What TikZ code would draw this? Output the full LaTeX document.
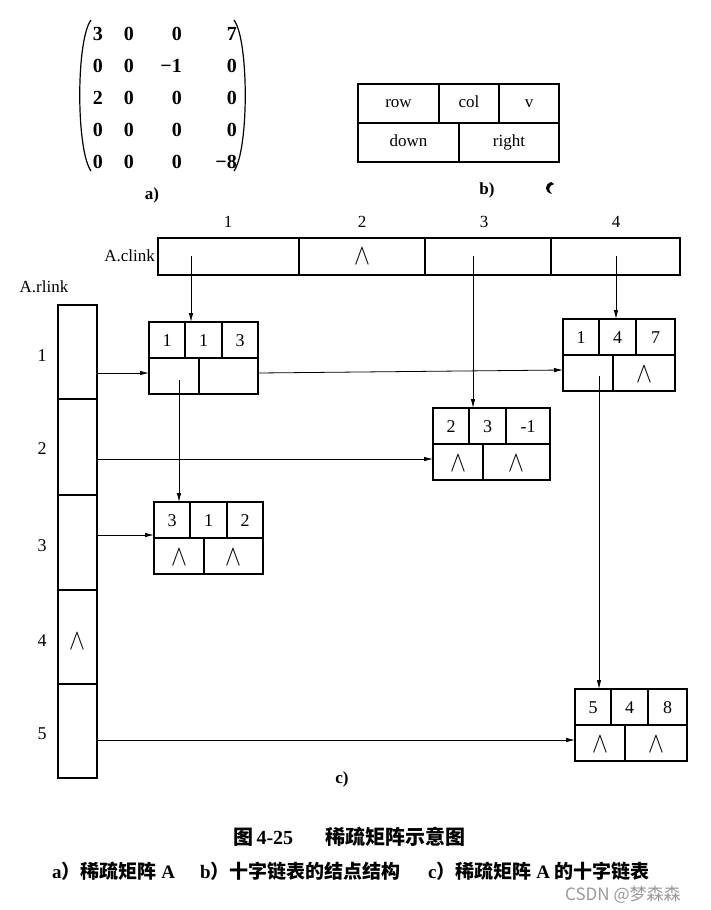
\documentclass[tikz,border=0pt]{standalone}
\usepackage{fontspec}
\usepackage{graphicx}
\setmainfont{Liberation Serif}
\newfontfamily\cjk{Noto Sans CJK SC}
\usetikzlibrary{arrows.meta,calc}
\newcommand\W{{\fontsize{20}{22}\selectfont\scalebox{1.15}[1.4]{$\wedge$}}}
\tikzset{
  box/.style={draw, line width=1.4pt, inner sep=0pt, outer sep=0pt, anchor=north west},
  inln/.style={line width=1.3pt},
  arr/.style={line width=0.8pt, -{Latex[length=9pt,width=4.5pt]}},
  num/.style={font=\fontsize{18}{20}\selectfont, inner sep=0pt, text height=12pt, text depth=0pt},
  lab/.style={font=\fontsize{17}{19}\selectfont, inner sep=0pt, text height=11.5pt, text depth=3.5pt},
  wdg/.style={inner sep=0pt},
  mat/.style={font=\fontsize{20}{22}\selectfont\bfseries, inner sep=0pt, anchor=east, text height=13pt, text depth=0pt},
  paren/.style={line width=1.2pt},
  capt/.style={inner sep=0pt, anchor=west},
}
\newcommand\xlnode[9]{%
  \node[box, minimum width=#4, minimum height=72] (#1) at (#2,#3) {};
  \begin{scope}[shift={(#2,#3)}]
    \draw[inln] (0,36) -- (#4,36);
    \draw[inln] (36,0) -- (36,36);
    \draw[inln] (73,0) -- (73,36);
    \draw[inln] (50,36) -- (50,72);
    \node[num] (#1-a) at (18,18) {#5};
    \node[num] (#1-b) at (54.5,18) {#6};
    \node[num] (#1-c) at ({(73+#4)/2},18) {#7};
    \node[wdg] (#1-d) at (25,55) {#8};
    \node[wdg] (#1-e) at ({(50+#4)/2},55) {#9};
    \coordinate (#1-in) at (0,51);
    \coordinate (#1-out) at (#4,51);
  \end{scope}}
\begin{document}
\begin{tikzpicture}[x=1pt,y=-1pt]
\fill[white] (0,0) rectangle (710,910);
\useasboundingbox (0,0) rectangle (710,910);

% ---- a) matrix
\draw[paren] (91,20) .. controls (76,40) and (76,150) .. (91,171);
\draw[paren] (234,20) .. controls (249,40) and (249,150) .. (234,171);
\node[mat] (m11) at (103,34) {3};
\node[mat] (m12) at (134,34) {0};
\node[mat] (m13) at (182,34) {0};
\node[mat] (m14) at (237,34) {7};
\node[mat] (m21) at (103,66) {0};
\node[mat] (m22) at (134,66) {0};
\node[mat] (m23) at (182,66) {−1};
\node[mat] (m24) at (237,66) {0};
\node[mat] (m31) at (103,98) {2};
\node[mat] (m32) at (134,98) {0};
\node[mat] (m33) at (182,98) {0};
\node[mat] (m34) at (237,98) {0};
\node[mat] (m41) at (103,130) {0};
\node[mat] (m42) at (134,130) {0};
\node[mat] (m43) at (182,130) {0};
\node[mat] (m44) at (237,130) {0};
\node[mat] (m51) at (103,162) {0};
\node[mat] (m52) at (134,162) {0};
\node[mat] (m53) at (182,162) {0};
\node[mat] (m54) at (237,162) {−8};
\node[lab, font=\fontsize{17}{19}\selectfont\bfseries] (la) at (152,195) {a)};

% ---- b) node structure
\node[box, minimum width=81, minimum height=39] (brow) at (358,84) {};
\node[lab] at (brow.center) {row};
\node[box, minimum width=60, minimum height=39] (bcol) at (439,84) {};
\node[lab] at (bcol.center) {col};
\node[box, minimum width=60, minimum height=39] (bv) at (499,84) {};
\node[lab] at (bv.center) {v};
\node[box, minimum width=101, minimum height=39] (bdown) at (358,123) {};
\node[lab] at (bdown.center) {down};
\node[box, minimum width=100, minimum height=39] (bright) at (459,123) {};
\node[lab] at (bright.center) {right};
\node[lab, font=\fontsize{17}{19}\selectfont\bfseries] (lb) at (487,190) {b)};
\fill (551,182) .. controls (544,185) and (544,192) .. (552,194) .. controls (548,190) and (548,186) .. (554,184) -- cycle;

% ---- c) column head
\node[lab] (aclink) at (155,257) [anchor=east] {A.clink};
\node[box, minimum width=141, minimum height=37] (c1) at (158,238) {};
\node[box, minimum width=126, minimum height=37] (c2) at (299,238) {};
\node[box, minimum width=126, minimum height=37] (c3) at (425,238) {};
\node[box, minimum width=129, minimum height=37] (c4) at (551,238) {};
\node[wdg] at (c2.center) {\W};
\node[lab] (h1) at (228,223) {1};
\node[lab] (h2) at (362,223) {2};
\node[lab] (h3) at (484,223) {3};
\node[lab] (h4) at (616,223) {4};

% ---- row head
\node[lab] (arlink) at (44,288) {A.rlink};
\node[box, minimum width=39, minimum height=94] (r1) at (58,305) {};
\node[box, minimum width=39, minimum height=96] (r2) at (58,399) {};
\node[box, minimum width=39, minimum height=95] (r3) at (58,495) {};
\node[box, minimum width=39, minimum height=94] (r4) at (58,590) {};
\node[box, minimum width=39, minimum height=94] (r5) at (58,684) {};
\node[wdg] at ([yshift=-4pt]r4.center) {\W};
\node[num] (v1) at (42,355) {1};
\node[num] (v2) at (42,448) {2};
\node[num] (v3) at (42,545) {3};
\node[num] (v4) at (42,640) {4};
\node[num] (v5) at (42,733) {5};

% ---- element nodes
\xlnode{n113}{149}{322}{109}{1}{1}{3}{}{}
\xlnode{n147}{563}{319}{112}{1}{4}{7}{}{\W}
\xlnode{n2}{433}{408}{117}{2}{3}{-1}{\W}{\W}
\xlnode{n312}{154}{502}{109}{3}{1}{2}{\W}{\W}
\xlnode{n548}{575}{689}{112}{5}{4}{8}{\W}{\W}

% ---- connectors
\coordinate (s1) at (191,256);
\coordinate (s3) at (473,256);
\coordinate (s4) at (616,256);
\draw[arr] (s1) -- (s1 |- n113.north);
\draw[arr] (s3) -- (s3 |- n2.north);
\draw[arr] (s4) -- (s4 |- n147.north);
\draw[arr] (r1.east |- n113-in) -- (n113-in);
\draw[arr] (n113-out) -- (n147-in);
\draw[arr] (r2.east |- n2-in) -- (n2-in);
\coordinate (n312-in) at ([yshift=-33pt]n312.north west);
\draw[arr] (r3.east |- n312-in) -- (n312-in);
\draw[arr] (r5.east |- n548-in) -- (n548-in);
\coordinate (d1) at (179,380);
\draw[arr] (d1) -- (d1 |- n312.north);
\coordinate (d4) at (599,376);
\draw[arr] (d4) -- (d4 |- n548.north);
\node[lab, font=\fontsize{17}{19}\selectfont\bfseries] (lc) at (342,779) {c)};

% ---- caption
\node[capt, font=\fontsize{20}{22}\selectfont] (cap1) at (233,837) {{\cjk\bfseries 图}\,{\bfseries 4-25}};
\node[capt, font=\fontsize{20}{22}\selectfont] (cap2) at (325,837) {\cjk\bfseries 稀疏矩阵示意图};
\node[capt, font=\fontsize{19}{21}\selectfont] (cap3) at (52,871) {{\bfseries a}{\cjk\bfseries ）稀疏矩阵} {\bfseries A}};
\node[capt, font=\fontsize{19}{21}\selectfont] (cap4) at (200,871) {{\bfseries b}{\cjk\bfseries ）十字链表的结点结构}};
\node[capt, font=\fontsize{19}{21}\selectfont] (cap5) at (428,871) {{\bfseries c}{\cjk\bfseries ）稀疏矩阵} {\bfseries A} {\cjk\bfseries 的十字链表}};
\node[capt, text=black!40, font=\fontsize{17}{19}\selectfont\cjk] (wm) at (565,895) {CSDN @梦森森};
\end{tikzpicture}
\end{document}
